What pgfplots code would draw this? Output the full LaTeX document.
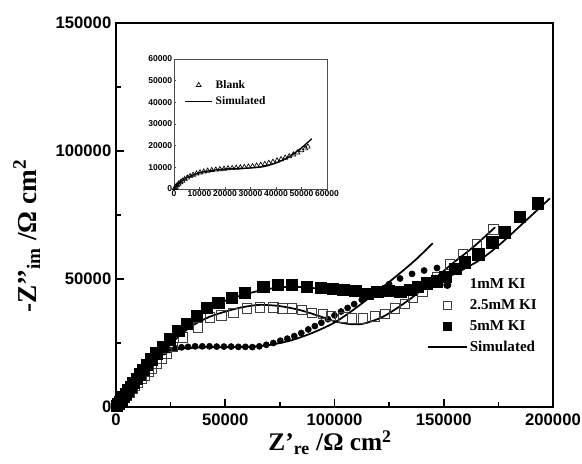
\documentclass[border=0pt]{standalone}
\usepackage{fontspec}
\setmainfont{Liberation Serif}
\newfontfamily\arialfont{Liberation Sans}
\usepackage{pgfplots}
\pgfplotsset{compat=1.18}

\begin{document}
\begin{tikzpicture}
\useasboundingbox (-87pt,-42.75pt) rectangle (349.5pt,305.25pt);
% main Nyquist plot
\begin{axis}[
  at={(0pt,0pt)}, anchor=south west,
  scale only axis, width=327.75pt, height=288pt,
  xmin=0, xmax=200000, ymin=0, ymax=150000,
  xtick={0,50000,100000,150000,200000},
  ytick={0,50000,100000,150000},
  minor x tick num=1, minor y tick num=1,
  tick align=inside, tick pos=left,
  major tick length=6pt, minor tick length=4pt,
  axis line style={line width=1.6pt},
  every tick/.style={black, line width=1.3pt},
  scaled ticks=false,
  /pgf/number format/fixed,
  /pgf/number format/1000 sep={},
  /pgf/number format/assume math mode=true,
  ticklabel style={font=\fontsize{12.5}{14}\selectfont\arialfont\bfseries},
  xticklabel style={yshift=-3pt, inner sep=2pt},
  xlabel={Z’\textsubscript{re} /Ω cm\textsuperscript{2}},
  ylabel={-Z’’\textsubscript{im} /Ω cm\textsuperscript{2}},
  xlabel style={font=\fontsize{19}{22}\selectfont\bfseries, inner sep=0.5pt,
    at={(axis description cs:0.49,-0.114)}, anchor=base},
  ylabel style={font=\fontsize{20.5}{23}\selectfont\bfseries,
    at={(axis description cs:-0.183,0.445)}, anchor=base},
  legend image code/.code={\draw[mark repeat=2,mark phase=2,#1] plot coordinates {(0cm,0cm) (0.5cm,0cm) (1cm,0cm)};},
  legend image post style={mark size=2.8pt},
  legend style={at={(axis description cs:0.703,0.348)}, anchor=north west,
    draw=none, fill=none, font=\fontsize{11.3}{13.5}\selectfont\bfseries, row sep=2.5pt},
  legend cell align=left,
]
% 1 mM KI
\addplot[only marks, mark=*, mark size=2.3pt, black] coordinates {
(300,400)(800,1000)(1400,1800)(2000,2600)(2700,3500)(3500,4500)(4400,5700)(5400,7000)
(6500,8400)(7700,9900)(9000,11500)(10400,13100)(12000,14800)(13700,16400)(15500,17900)
(17500,19300)(19700,20500)(22000,21500)(24500,22300)(27200,22900)(30000,23300)(33000,23500)
(36200,23700)(39500,23700)(42800,23700)(46100,23600)(49400,23600)(52700,23600)(56000,23500)
(59200,23500)(62400,23400)(65600,23700)(68800,24300)(72000,25000)(75200,25900)(78400,26700)
(81600,27700)(84800,28900)(88000,30300)(91000,31600)(94000,32900)(97000,34300)(100000,35800)
(103000,37300)(106000,38700)(109000,40200)(112500,41900)(116500,43800)(120500,45800)
(125000,48000)(130000,50200)(135500,52000)(141000,53300)(146900,54300)};
\addlegendentry{1mM KI}
% 2.5 mM KI
\addplot[only marks, mark=square, mark size=3.6pt, mark options={draw=black!75, line width=0.6pt}] coordinates {
(500,400)(1200,1000)(2000,1700)(3000,2600)(4000,3600)(5000,4600)(6200,5800)(7400,7000)
(8700,8300)(10000,9600)(11500,11000)(13000,12400)(14700,13800)(16500,15100)(18500,16900)
(20700,18900)(23000,21000)(26000,23500)(30700,27100)(37500,31000)(43000,34900)(48300,35800)
(53600,36800)(60000,38400)(65900,38800)(71900,38800)(76200,38500)(80500,38400)(85000,37900)
(89700,36800)(94700,36400)(98300,35600)(103900,34900)(108000,34500)(113000,34500)
(118500,35300)(123100,36400)(127700,38400)(132300,40300)(135900,42600)(140100,45000)
(146900,50800)(152900,55800)(158800,59700)(165200,63600)(172600,69400)};
\addlegendentry{2.5mM KI}
% 5 mM KI
\addplot[only marks, mark=square*, mark size=4.3pt, black] coordinates {
(400,500)(1000,1200)(1700,2000)(2500,2900)(3400,4000)(4400,5200)(5500,6500)(6700,7900)
(8000,9400)(9400,11000)(10900,12700)(12500,14600)(14200,16600)(16200,18700)(18500,21000)
(21300,23500)(24600,26400)(28400,29800)(32500,32600)(37000,35700)(41600,38800)(46700,40700)
(53100,42600)(59000,44600)(67300,46900)(74100,47700)(80500,47700)(87400,46900)(93800,46500)
(99300,46100)(104000,45700)(109400,45300)(114900,44200)(119500,45000)(124500,45300)
(130000,45000)(134600,45700)(138200,46900)(142300,48400)(146900,49200)(150600,50800)
(155200,53900)(159700,56600)(165700,59700)(172100,64300)(178000,68200)(184900,74400)
(193100,79500)};
\addlegendentry{5mM KI}
% simulated fits
\addplot[black, line width=1.3pt, smooth] coordinates {
(0,0)(4000,4300)(10000,11000)(16000,17600)(22000,23700)(28000,29500)(35000,34800)
(42000,38300)(50000,41500)(57000,43500)(64500,45200)(72000,46400)(78300,46900)(86000,46800)
(95000,46000)(105000,45000)(115000,44500)(125000,44500)(135900,45500)(146900,49000)
(156100,52500)(166600,57500)(175800,63600)(186300,71800)(198600,81500)};
\addlegendentry{Simulated}
\addplot[black, line width=1.3pt, smooth, forget plot] coordinates {
(0,0)(3000,3500)(6000,7200)(10000,11500)(15000,16300)(20000,19800)(25000,21800)(30000,22800)
(40000,23300)(50000,23400)(60000,23500)(70000,24200)(80000,26000)(90000,29000)(100000,33000)
(110000,38800)(120800,46000)(130000,52300)(137500,57800)(145000,64000)};
\addplot[black, line width=1.3pt, smooth, forget plot] coordinates {
(0,0)(4000,3800)(10000,9800)(16000,16000)(22000,22000)(28000,27000)(35000,31800)(43000,35300)
(51000,37500)(58000,39000)(66000,39900)(75000,39400)(84000,37900)(92000,35800)(100000,33500)
(107000,32400)(113000,32500)(120800,34700)(126800,37600)(135900,43000)(145100,49600)
(154200,56200)(163400,62400)(173500,70200)};
\end{axis}
% inset: blank
\begin{axis}[
  at={(43.5pt,261pt)}, anchor=north west,
  scale only axis, width=114.75pt, height=97.5pt,
  xmin=0, xmax=60000, ymin=0, ymax=60000,
  xtick={0,10000,20000,30000,40000,50000,60000},
  ytick={0,10000,20000,30000,40000,50000,60000},
  tick align=inside, tick pos=left, major tick length=1.5pt,
  axis line style={black!70, line width=0.6pt},
  every tick/.style={black!70, line width=0.5pt},
  scaled ticks=false,
  /pgf/number format/fixed,
  /pgf/number format/1000 sep={},
  /pgf/number format/assume math mode=true,
  ticklabel style={font=\fontsize{6.4}{7}\selectfont\arialfont\bfseries, inner sep=1.2pt},
  legend image code/.code={\draw[mark repeat=2,mark phase=2,#1] plot coordinates {(0cm,0cm) (0.36cm,0cm) (0.72cm,0cm)};},
  legend style={at={(axis description cs:0.04,0.88)}, anchor=north west,
    draw=none, fill=none, font=\fontsize{8.6}{10}\selectfont\bfseries, row sep=1pt},
  legend cell align=left,
]
\addplot[only marks, mark=triangle, mark size=2.1pt, mark options={black, line width=0.5pt}] coordinates {
(300,400)(700,1000)(1200,1700)(1800,2400)(2500,3100)(3300,3800)(4200,4500)(5200,5200)
(6300,5900)(7500,6500)(8800,7100)(10200,7600)(11700,8000)(13200,8400)(14800,8700)(16400,8900)
(18000,9100)(19600,9300)(21200,9500)(22800,9600)(24400,9800)(26000,9900)(27600,10100)
(29200,10300)(30800,10500)(32400,10800)(34000,11100)(35600,11500)(37200,12000)(38800,12500)
(40400,13100)(42000,13700)(43600,14400)(45200,15100)(46800,15900)(48400,16800)(50000,17800)
(51500,18700)(52500,19500)};
\addlegendentry{Blank}
\addplot[black, line width=1pt, smooth] coordinates {
(0,0)(2000,2500)(5000,5200)(10000,7500)(15000,8600)(20000,9200)(25000,9500)(30000,9700)
(35000,10300)(40000,12000)(45000,14800)(50000,19000)(54000,23200)};
\addlegendentry{Simulated}
\end{axis}
\end{tikzpicture}
\end{document}
